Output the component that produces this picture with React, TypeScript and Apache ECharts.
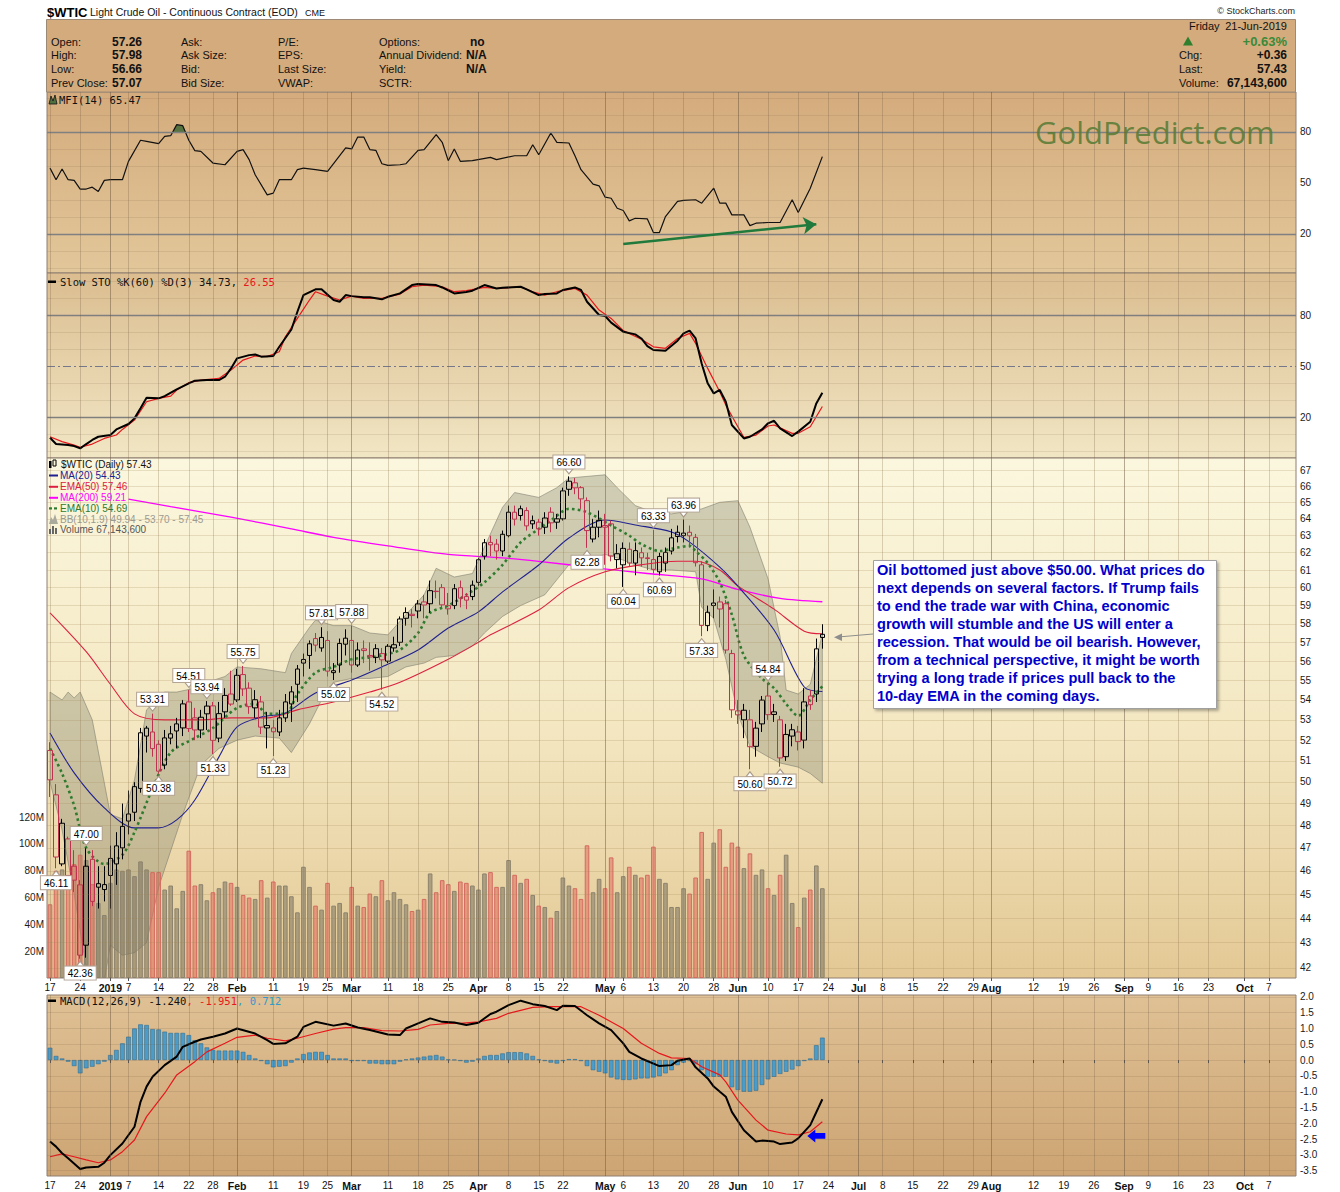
import React, { useEffect, useRef } from 'react';
import * as echarts from 'echarts';

// ---------- categories (trading days, then future weekdays) ----------
const monthDays: [string, number[]][] = [
  ['2018-12', [17, 18, 19, 20, 21, 24, 26, 27, 28, 31]],
  ['2019-01', [2, 3, 4, 7, 8, 9, 10, 11, 14, 15, 16, 17, 18, 22, 23, 24, 25, 28, 29, 30, 31]],
  ['2019-02', [1, 4, 5, 6, 7, 8, 11, 12, 13, 14, 15, 19, 20, 21, 22, 25, 26, 27, 28]],
  ['2019-03', [1, 4, 5, 6, 7, 8, 11, 12, 13, 14, 15, 18, 19, 20, 21, 22, 25, 26, 27, 28, 29]],
  ['2019-04', [1, 2, 3, 4, 5, 8, 9, 10, 11, 12, 15, 16, 17, 18, 22, 23, 24, 25, 26, 29, 30]],
  ['2019-05', [1, 2, 3, 6, 7, 8, 9, 10, 13, 14, 15, 16, 17, 20, 21, 22, 23, 24, 28, 29, 30, 31]],
  ['2019-06', [3, 4, 5, 6, 7, 10, 11, 12, 13, 14, 17, 18, 19, 20, 21, 24, 25, 26, 27, 28]],
  ['2019-07', [1, 2, 3, 5, 8, 9, 10, 11, 12, 15, 16, 17, 18, 19, 22, 23, 24, 25, 26, 29, 30, 31]],
  ['2019-08', [1, 2, 5, 6, 7, 8, 9, 12, 13, 14, 15, 16, 19, 20, 21, 22, 23, 26, 27, 28, 29, 30]],
  ['2019-09', [3, 4, 5, 6, 9, 10, 11, 12, 13, 16, 17, 18, 19, 20, 23, 24, 25, 26, 27, 30]],
  ['2019-10', [1, 2, 3, 4, 7, 8, 9, 10, 11]],
];
const dates: string[] = monthDays.flatMap(([m, ds]) => ds.map((d) => `${m}-${String(d).padStart(2, '0')}`));

// tick labels: [date, text, isMonth]
const tickLabels: [string, string, boolean][] = [
  ['2018-12-17', '17', false], ['2018-12-24', '24', false], ['2019-01-02', '2019', true], ['2019-01-07', '7', false],
  ['2019-01-14', '14', false], ['2019-01-22', '22', false], ['2019-01-28', '28', false], ['2019-02-01', 'Feb', true],
  ['2019-02-11', '11', false], ['2019-02-19', '19', false], ['2019-02-25', '25', false], ['2019-03-01', 'Mar', true],
  ['2019-03-11', '11', false], ['2019-03-18', '18', false], ['2019-03-25', '25', false], ['2019-04-01', 'Apr', true],
  ['2019-04-08', '8', false], ['2019-04-15', '15', false], ['2019-04-22', '22', false], ['2019-05-01', 'May', true],
  ['2019-05-06', '6', false], ['2019-05-13', '13', false], ['2019-05-20', '20', false], ['2019-05-28', '28', false],
  ['2019-06-03', 'Jun', true], ['2019-06-10', '10', false], ['2019-06-17', '17', false], ['2019-06-24', '24', false],
  ['2019-07-01', 'Jul', true], ['2019-07-08', '8', false], ['2019-07-15', '15', false], ['2019-07-22', '22', false],
  ['2019-07-29', '29', false], ['2019-08-01', 'Aug', true], ['2019-08-12', '12', false], ['2019-08-19', '19', false],
  ['2019-08-26', '26', false], ['2019-09-03', 'Sep', true], ['2019-09-09', '9', false], ['2019-09-16', '16', false],
  ['2019-09-23', '23', false], ['2019-10-01', 'Oct', true], ['2019-10-07', '7', false],
];

// ---------- price data ----------
const prevClose = 51.2;
const opens = [
  51.5, 49.4, 46.3, 47.4, 46.2, 45.4, 42.9, 46.5, 45.45, 45.2,
  45.8, 46.3, 47.0, 48.2, 48.6, 49.7, 52.2, 52.4, 51.8, 50.8,
  52.1, 52.8, 52.6, 53.9, 53.1, 52.5, 53.3, 53.7, 52.1, 53.4,
  54.3, 54.0, 55.3, 54.6, 53.6, 53.9, 52.6, 52.6, 52.4, 53.1,
  53.8, 54.8, 55.9, 56.3, 57.2, 56.7, 57.1, 55.4, 55.8, 56.9,
  57.1, 55.8, 56.65, 56.3, 56.2, 56.4, 56.0, 56.7, 57.0, 58.3,
  58.45, 58.7, 59.2, 59.1, 59.78, 60.0, 59.0, 59.0, 60.0, 59.5,
  59.5, 60.3, 61.8, 62.6, 62.5, 62.1, 63.0, 64.4, 64.2, 64.5,
  63.7, 63.8, 63.5, 64.4, 63.8, 64.0, 65.8, 66.2, 65.9, 65.1,
  62.8, 63.5, 63.5, 63.7, 61.6, 61.3, 62.2, 61.4, 62.0, 61.7,
  61.6, 60.9, 61.4, 62.1, 63.2, 63.0, 63.2, 62.9, 61.3, 57.9,
  59.0, 59.2, 59.1, 56.4, 53.45, 53.0, 53.0, 51.7, 52.8, 54.2,
  53.4, 53.0, 51.2, 52.2, 52.4, 52.0, 54.2, 54.3, 57.26,
];
const highs = [
  51.9, 49.9, 48.3, 47.5, 46.9, 45.6, 47.0, 46.9, 46.2, 46.2,
  47.1, 47.7, 49.0, 49.6, 50.0, 52.6, 52.7, 53.31, 52.0, 52.5,
  52.7, 53.1, 54.0, 54.51, 53.6, 53.5, 53.94, 53.9, 53.9, 54.6,
  55.5, 55.6, 55.75, 54.9, 54.5, 54.2, 53.4, 53.0, 53.5, 54.3,
  54.7, 55.8, 56.4, 57.1, 57.5, 57.81, 57.6, 55.9, 57.2, 57.7,
  57.88, 57.0, 57.1, 57.0, 56.9, 56.7, 56.9, 57.3, 58.4, 58.9,
  58.8, 59.3, 59.6, 60.4, 60.4, 60.2, 59.7, 60.2, 60.4, 59.7,
  60.4, 61.7, 62.8, 63.0, 62.8, 63.3, 64.8, 64.8, 64.8, 64.7,
  64.2, 64.0, 64.4, 64.7, 64.3, 65.9, 66.6, 66.5, 66.0, 65.3,
  64.0, 64.5, 64.3, 63.9, 62.5, 62.6, 62.6, 62.6, 62.3, 62.0,
  63.33, 62.0, 62.3, 63.4, 63.6, 63.96, 63.6, 63.1, 61.5, 59.0,
  59.9, 59.5, 59.3, 56.6, 54.0, 53.8, 53.5, 52.9, 54.2, 54.84,
  53.8, 53.2, 52.8, 52.8, 52.7, 54.6, 54.5, 57.2, 57.98,
];
const lows = [
  49.3, 46.11, 46.2, 45.5, 45.1, 42.36, 42.4, 44.5, 44.4, 44.7,
  44.4, 45.4, 46.5, 47.6, 48.2, 49.5, 51.4, 51.2, 50.38, 50.6,
  51.8, 51.6, 52.2, 52.4, 52.0, 52.1, 52.5, 51.33, 51.9, 53.1,
  53.7, 53.9, 54.2, 53.3, 53.1, 52.3, 51.6, 51.23, 52.2, 52.9,
  52.9, 53.9, 55.2, 55.6, 56.5, 56.5, 55.2, 55.02, 55.4, 56.3,
  55.4, 55.7, 55.9, 55.5, 55.9, 54.52, 55.9, 56.5, 56.8, 57.9,
  57.8, 58.3, 58.3, 58.6, 59.4, 58.8, 58.5, 58.8, 58.9, 58.8,
  59.3, 60.1, 61.6, 61.8, 61.6, 61.8, 62.9, 63.6, 63.9, 63.3,
  63.4, 63.0, 63.1, 63.2, 63.4, 63.9, 65.4, 65.5, 64.6, 62.28,
  62.6, 62.9, 61.3, 61.5, 61.1, 60.04, 61.2, 60.7, 61.2, 61.0,
  60.8, 60.69, 60.9, 61.9, 62.6, 62.6, 62.3, 61.2, 57.33, 57.6,
  58.3, 57.8, 56.4, 53.1, 52.8, 52.1, 50.6, 51.2, 52.4, 53.0,
  52.9, 50.72, 51.0, 51.7, 51.5, 51.6, 53.5, 53.9, 56.66,
];
const closes = [
  50.1, 46.6, 48.1, 45.8, 45.6, 42.5, 46.2, 44.7, 45.3, 45.41,
  46.54, 47.09, 47.96, 48.52, 49.78, 52.36, 52.59, 51.59, 50.51, 52.11,
  52.31, 52.45, 53.8, 52.57, 52.5, 53.13, 53.69, 51.99, 53.31, 54.23,
  53.79, 55.26, 54.56, 53.66, 54.01, 52.64, 52.72, 52.41, 53.1, 53.9,
  54.41, 55.59, 56.09, 56.92, 56.85, 57.26, 55.48, 55.5, 56.94, 57.22,
  55.8, 56.59, 56.56, 56.22, 56.66, 56.07, 56.79, 56.87, 58.26, 58.61,
  58.52, 59.09, 59.03, 59.83, 59.8, 59.04, 58.82, 59.94, 59.41, 59.3,
  60.14, 61.59, 62.58, 62.46, 62.1, 63.08, 64.4, 63.98, 64.61, 63.58,
  63.89, 63.4, 64.05, 63.76, 64.0, 65.7, 66.3, 65.89, 65.21, 63.3,
  63.5, 63.91, 63.6, 61.81, 61.94, 62.25, 61.4, 62.12, 61.7, 61.66,
  61.04, 61.78, 62.02, 62.87, 62.95, 63.15, 62.99, 61.42, 57.91, 58.63,
  59.14, 58.81, 56.59, 53.5, 53.25, 53.48, 51.68, 52.59, 53.99, 53.26,
  53.27, 51.14, 52.28, 52.51, 51.93, 53.9, 53.76, 56.65, 57.43,
];
// volume in millions
const volumeM = [
  55, 80, 81, 75, 85, 92, 88, 70, 56, 47,
  71, 81, 80, 81, 76, 87, 81, 79, 79, 66,
  69, 52, 65, 95, 69, 70, 58, 64, 67, 72,
  71, 68, 62, 60, 59, 73, 60, 72, 69, 69,
  61, 49, 83, 68, 54, 51, 71, 54, 56, 49,
  68, 54, 53, 63, 61, 73, 58, 64, 59, 55,
  50, 51, 59, 78, 64, 73, 70, 65, 72, 71,
  69, 66, 78, 79, 68, 68, 88, 77, 71, 74,
  62, 54, 53, 45, 50, 75, 69, 67, 59, 99,
  64, 74, 67, 90, 64, 76, 83, 77, 75, 77,
  98, 74, 71, 53, 53, 67, 63, 75, 109, 74,
  101, 111, 83, 101, 98, 82, 93, 77, 81, 67,
  62, 77, 92, 56, 38, 60, 66, 84, 67,
];

// overlays: [dayIndex, value]
const ma20: [number, number][] = [
  [0, 52.35], [4, 50.43], [9, 48.8], [14, 47.89], [18, 47.89], [21, 48.25], [24, 49.16], [28, 51.19], [31, 52.65],
  [35, 53.14], [39, 53.34], [44, 54.35], [50, 55.02], [55, 55.7], [61, 56.59], [66, 57.77], [71, 58.65], [75, 59.76],
  [81, 61.29], [86, 62.86], [92, 63.93], [97, 63.63], [103, 63.22], [106, 62.62], [111, 61.17], [114, 60.09],
  [120, 57.66], [125, 54.66], [128, 54.43],
];
const ema50: [number, number][] = [
  [0, 58.6], [6, 56.5], [10, 54.8], [14, 53.3], [19, 53.0], [25, 53.0], [30, 53.1], [36, 53.1], [41, 53.5], [47, 53.9],
  [53, 54.4], [58, 54.9], [66, 56.1], [71, 57.0], [73, 57.4], [81, 58.75], [86, 60.0], [92, 60.9], [98, 61.3],
  [104, 61.5], [107, 61.5], [111, 61.0], [114, 60.1], [120, 58.8], [125, 57.6], [128, 57.46],
];
const ma200: [number, number][] = [
  [13, 65.2], [20, 64.74], [30, 64.1], [40, 63.4], [47, 62.9], [56, 62.4], [66, 61.9], [75, 61.7], [81, 61.5],
  [91, 61.1], [99, 60.8], [108, 60.5], [114, 59.9], [121, 59.4], [128, 59.21],
];
const ema10: [number, number][] = [
  [0, 51.6], [2, 50.4], [4, 48.9], [6, 47.0], [9, 46.3], [12, 46.7], [14, 47.7], [17, 49.7], [20, 51.4], [24, 52.1],
  [27, 52.6], [31, 53.6], [34, 53.8], [36, 53.3], [39, 53.3], [41, 54.3], [44, 55.4], [47, 55.7], [50, 56.1],
  [53, 56.2], [55, 56.3], [58, 56.6], [61, 57.5], [63, 58.6], [66, 59.0], [69, 59.6], [72, 60.3], [75, 61.3],
  [78, 62.6], [81, 63.4], [83, 63.9], [86, 64.6], [89, 64.4], [93, 63.6], [96, 63.0], [98, 62.5], [101, 62.1],
  [104, 62.3], [106, 62.4], [107, 62.1], [109, 61.4], [111, 60.3], [113, 58.5], [115, 56.3], [118, 55.1],
  [120, 54.6], [122, 53.8], [124, 53.2], [126, 54.0], [128, 54.69],
];
const bbUpper: [number, number][] = [
  [0, 54.4], [2, 54.0], [3, 54.4], [4, 54.1], [5, 54.4], [7, 53.0], [10, 48.5], [12, 48.3], [14, 50.1], [16, 53.5],
  [19, 54.4], [21, 54.4], [24, 54.6], [27, 55.0], [29, 55.2], [31, 55.7], [35, 55.6], [37, 55.5], [39, 55.4],
  [40, 56.4], [43, 57.8], [44, 58.2], [47, 57.9], [50, 57.9], [53, 57.5], [56, 57.4], [59, 58.5], [62, 59.6],
  [64, 61.1], [67, 60.6], [70, 60.8], [75, 64.7], [77, 65.6], [81, 65.3], [84, 65.9], [86, 66.5], [92, 66.7],
  [94, 65.9], [97, 64.8], [100, 64.4], [103, 64.3], [108, 64.6], [111, 65.0], [114, 65.1], [116, 63.5],
  [119, 60.5], [121, 57.3], [122, 54.5], [124, 54.3], [126, 54.8], [128, 57.45],
];
const bbLower: [number, number][] = [
  [0, 50.0], [2, 47.8], [4, 45.0], [6, 42.0], [7, 41.5], [9, 41.5], [10, 42.9], [12, 42.5], [14, 42.6], [16, 43.0],
  [18, 45.3], [22, 48.5], [25, 50.8], [28, 51.6], [31, 52.0], [34, 52.2], [38, 52.1], [40, 51.4], [43, 52.8],
  [45, 54.0], [47, 54.9], [50, 55.1], [53, 55.1], [56, 55.2], [59, 55.7], [62, 55.9], [64, 56.2], [67, 56.3],
  [70, 56.8], [72, 57.5], [75, 58.4], [78, 59.0], [82, 59.6], [86, 61.3], [92, 61.9], [94, 61.7], [97, 61.3],
  [100, 61.0], [103, 61.0], [107, 60.9], [108, 58.9], [110, 58.3], [112, 56.1], [114, 53.3], [116, 51.7],
  [119, 51.2], [121, 50.9], [124, 50.7], [126, 50.4], [128, 49.94],
];
// price callouts: [dayIndex, text, side]
const callouts: [number, string, 'high' | 'low'][] = [
  [1, '46.11', 'low'], [5, '42.36', 'low'], [6, '47.00', 'high'], [17, '53.31', 'high'], [18, '50.38', 'low'],
  [23, '54.51', 'high'], [26, '53.94', 'high'], [27, '51.33', 'low'], [32, '55.75', 'high'], [37, '51.23', 'low'],
  [45, '57.81', 'high'], [47, '55.02', 'low'], [50, '57.88', 'high'], [55, '54.52', 'low'], [86, '66.60', 'high'],
  [89, '62.28', 'low'], [95, '60.04', 'low'], [100, '63.33', 'high'], [101, '60.69', 'low'], [105, '63.96', 'high'],
  [108, '57.33', 'low'], [116, '50.60', 'low'], [119, '54.84', 'high'], [121, '50.72', 'low'],
];

// ---------- indicators ----------
const mfi: [number, number][] = [
  [0, 58.7], [1, 51.9], [2, 58.2], [3, 51.9], [4, 51.5], [5, 46.4], [6, 46.4], [7, 47.5], [8, 45.0], [9, 51.5],
  [10, 51.9], [12, 51.9], [13, 62.7], [15, 75.1], [16, 74.5], [18, 73.1], [19, 77.4], [20, 77.8], [21, 84.3],
  [22, 83.7], [23, 75.1], [24, 69.0], [25, 68.6], [27, 61.7], [29, 60.7], [31, 68.6], [32, 69.6], [33, 63.7],
  [34, 54.8], [36, 43.0], [37, 44.0], [38, 51.9], [40, 51.9], [41, 57.8], [42, 58.7], [44, 57.8], [46, 56.8],
  [49, 70.6], [50, 70.0], [51, 77.0], [52, 77.0], [53, 69.6], [54, 69.2], [55, 61.3], [56, 60.3], [58, 60.7],
  [59, 61.3], [61, 69.2], [62, 69.6], [64, 78.4], [65, 73.9], [66, 63.1], [67, 70.0], [68, 62.7], [70, 63.1],
  [73, 65.0], [74, 63.7], [77, 66.0], [79, 66.0], [80, 72.5], [81, 66.6], [83, 79.4], [84, 73.9], [86, 73.5],
  [87, 66.0], [88, 57.8], [90, 49.3], [91, 48.3], [92, 41.6], [93, 41.0], [94, 35.1], [95, 33.8], [96, 27.7],
  [97, 29.2], [99, 28.8], [100, 20.8], [101, 20.8], [102, 30.2], [104, 39.1], [105, 39.7], [107, 40.1],
  [108, 38.1], [110, 46.9], [111, 38.1], [112, 38.1], [113, 31.2], [115, 31.2], [116, 24.9], [117, 26.3],
  [119, 26.7], [121, 26.7], [123, 40.1], [124, 32.6], [126, 46.9], [128, 65.47],
];
const stoK: [number, number][] = [
  [0, 8.2], [1, 4.5], [3, 3.9], [4, 3.3], [5, 2.0], [6, 4.5], [7, 6.9], [8, 8.8], [10, 9.8], [11, 13.1], [13, 16.3],
  [14, 19.6], [15, 25.5], [16, 31.8], [18, 31.4], [19, 32.7], [21, 36.7], [23, 40.2], [24, 41.8], [26, 42.1],
  [28, 42.1], [29, 44.1], [30, 49.0], [31, 54.9], [33, 56.8], [34, 57.2], [35, 55.9], [37, 56.3], [38, 61.7],
  [40, 71.9], [41, 82.3], [42, 92.1], [44, 95.5], [45, 95.5], [47, 89.2], [48, 88.2], [49, 92.1], [50, 91.5],
  [52, 90.8], [53, 90.8], [55, 89.6], [56, 91.1], [58, 93.1], [60, 98.0], [61, 98.6], [64, 98.0], [65, 96.6],
  [67, 93.1], [69, 93.9], [70, 94.7], [72, 98.0], [74, 96.0], [75, 96.4], [78, 97.0], [79, 95.5], [81, 92.1],
  [82, 92.7], [84, 93.1], [85, 95.1], [87, 96.6], [88, 95.1], [89, 88.2], [91, 80.4], [92, 79.8], [93, 75.9],
  [95, 70.6], [97, 69.0], [98, 66.6], [99, 62.1], [100, 59.8], [102, 59.4], [104, 65.3], [105, 69.6], [106, 71.2],
  [107, 66.6], [108, 51.9], [109, 40.2], [110, 34.3], [111, 36.3], [112, 29.4], [113, 15.7], [115, 7.8],
  [116, 8.8], [118, 13.1], [119, 16.7], [120, 18.2], [121, 13.7], [123, 9.2], [124, 11.8], [126, 17.6],
  [127, 28.4], [128, 34.73],
];
const stoD: [number, number][] = [
  [0, 8.8], [2, 5.9], [4, 3.9], [5, 2.6], [7, 4.5], [9, 7.8], [11, 9.8], [12, 13.1], [14, 18.6], [16, 29.4],
  [18, 31.4], [20, 32.7], [21, 36.3], [23, 40.6], [25, 42.1], [28, 43.1], [30, 48.0], [32, 53.9], [34, 56.3],
  [36, 55.9], [38, 58.8], [39, 67.6], [41, 78.4], [43, 89.2], [44, 94.1], [46, 91.5], [48, 89.2], [50, 91.5],
  [52, 90.2], [55, 90.2], [56, 91.1], [58, 92.7], [60, 97.0], [62, 98.0], [65, 97.0], [67, 94.1], [69, 94.7],
  [72, 96.6], [74, 96.0], [78, 97.0], [80, 94.1], [82, 92.1], [84, 94.1], [87, 96.0], [89, 92.1], [91, 83.3],
  [93, 78.4], [95, 71.2], [98, 66.1], [100, 61.7], [102, 60.8], [104, 66.6], [106, 69.6], [107, 63.7],
  [109, 49.0], [111, 35.3], [112, 27.4], [114, 14.7], [115, 8.4], [117, 9.8], [119, 15.1], [120, 15.7],
  [123, 10.8], [124, 10.8], [126, 14.7], [128, 26.55],
];
const macdLine: [number, number][] = [
  [0, -2.58], [1, -2.74], [2, -2.95], [3, -3.11], [5, -3.45], [6, -3.4], [8, -3.38], [9, -3.25], [10, -3.01],
  [12, -2.64], [14, -2.11], [15, -1.32], [16, -0.84], [17, -0.53], [19, -0.16], [21, 0.11], [22, 0.42], [24, 0.58],
  [25, 0.65], [27, 0.74], [29, 0.84], [31, 1.0], [34, 0.84], [36, 0.63], [37, 0.51], [39, 0.53], [41, 0.74],
  [42, 1.05], [44, 1.21], [47, 1.09], [49, 1.16], [51, 1.03], [53, 0.95], [56, 0.81], [58, 0.79], [59, 1.0],
  [61, 1.16], [63, 1.32], [65, 1.21], [67, 1.19], [69, 1.11], [71, 1.18], [73, 1.46], [74, 1.53], [76, 1.74],
  [78, 1.88], [80, 1.77], [82, 1.71], [84, 1.58], [85, 1.72], [87, 1.71], [89, 1.42], [91, 1.16], [93, 0.95],
  [95, 0.53], [96, 0.26], [98, 0.05], [101, -0.19], [103, -0.16], [104, -0.02], [106, 0.05], [107, -0.23],
  [109, -0.58], [110, -0.84], [112, -1.16], [113, -1.64], [115, -2.22], [117, -2.58], [118, -2.55], [120, -2.58],
  [121, -2.66], [123, -2.61], [124, -2.48], [126, -2.06], [128, -1.24],
];
const macdSignal: [number, number][] = [
  [0, -3.06], [2, -2.97], [4, -3.06], [6, -3.16], [8, -3.25], [10, -3.16], [12, -2.9], [14, -2.53], [16, -1.79],
  [19, -1.05], [21, -0.47], [24, -0.05], [26, 0.26], [29, 0.53], [31, 0.72], [34, 0.79], [36, 0.69], [39, 0.61],
  [41, 0.69], [44, 0.84], [47, 0.98], [49, 1.03], [52, 1.03], [55, 0.93], [58, 0.92], [61, 0.97], [63, 1.11],
  [66, 1.16], [68, 1.16], [71, 1.21], [74, 1.32], [76, 1.48], [80, 1.67], [83, 1.69], [86, 1.69], [88, 1.69],
  [91, 1.42], [95, 1.0], [98, 0.53], [101, 0.21], [103, 0.07], [106, 0.05], [108, -0.21], [111, -0.47],
  [112, -0.69], [114, -1.27], [117, -1.9], [119, -2.22], [122, -2.34], [124, -2.37], [126, -2.27], [128, -1.95],
];
const macdHist = [
  0.39, 0.13, 0.05, -0.05, -0.19, -0.42, -0.26, -0.21, -0.13, -0.05,
  0.16, 0.32, 0.53, 0.74, 1.0, 1.13, 1.11, 0.98, 0.97, 0.9,
  0.86, 0.86, 0.86, 0.79, 0.63, 0.53, 0.4, 0.32, 0.3, 0.3,
  0.3, 0.3, 0.26, 0.16, 0.05, -0.03, -0.13, -0.23, -0.21, -0.19,
  -0.08, 0.05, 0.19, 0.24, 0.26, 0.26, 0.16, 0.05, 0.05, 0.05,
  -0.03, -0.03, -0.03, -0.11, -0.11, -0.13, -0.13, -0.13, -0.05, 0.02,
  0.05, 0.08, 0.11, 0.14, 0.16, 0.11, 0.02, 0.01, -0.03, -0.08,
  -0.05, 0.05, 0.13, 0.16, 0.16, 0.21, 0.25, 0.25, 0.25, 0.21,
  0.13, 0.02, -0.03, -0.08, -0.11, -0.03, 0.03, 0.03, -0.03, -0.19,
  -0.32, -0.37, -0.42, -0.55, -0.61, -0.63, -0.63, -0.61, -0.58, -0.58,
  -0.55, -0.51, -0.42, -0.32, -0.16, -0.08, -0.03, -0.13, -0.32, -0.53,
  -0.53, -0.53, -0.53, -0.86, -0.95, -1.0, -1.0, -0.97, -0.79, -0.61,
  -0.53, -0.44, -0.37, -0.3, -0.19, -0.03, 0.05, 0.47, 0.71,
];

// axis tick labels on the right
const priceTicks = [42, 43, 44, 45, 46, 47, 48, 49, 50, 51, 52, 53, 54, 55, 56, 57, 58, 59, 60, 61, 62, 63, 64, 65, 66, 67];
const macdTicks = [2.0, 1.5, 1.0, 0.5, 0.0, -0.5, -1.0, -1.5, -2.0, -2.5, -3.0, -3.5];

// ---------- styling ----------
const RED = '#BE3250';
const FONT = '"Liberation Sans", Arial, sans-serif';
const MONO = '"DejaVu Sans Mono", monospace';
const GL = 47;
const GW = 1249;

const labelMap: Record<string, [string, boolean]> = {};
tickLabels.forEach(([d, l, b]) => { labelMap[d] = [l, b]; });

const grad = (stops: [number, string][]) =>
  new echarts.graphic.LinearGradient(0, 0, 0, 1, stops.map(([offset, color]) => ({ offset, color })));

const axisLabelStyle = (text: string) => ({
  show: true, position: 'end', formatter: text, color: '#1a1a1a', fontSize: 10, fontFamily: FONT, distance: 4,
});
const hLine = (v: number, color: string, width: number, type: any, labelText?: string) => ({
  yAxis: v,
  lineStyle: { color, width, type },
  label: labelText != null ? axisLabelStyle(labelText) : { show: false },
});
const vLines = (week: string, month: string) =>
  tickLabels.map(([d, , b]) => ({ xAxis: d, lineStyle: { color: b ? month : week, width: 1, type: 'solid' }, label: { show: false } }));

const helper = (g: number, yIdx: number, data: any[]) => ({
  type: 'line', xAxisIndex: g, yAxisIndex: yIdx, data: [], silent: true, z: 0,
  markLine: { silent: true, symbol: ['none', 'none'], label: { show: false }, data },
});

function buildOption() {
  const candleData = opens.map((o, i) => {
    const c = closes[i];
    const pc = i === 0 ? prevClose : closes[i - 1];
    const col = c < pc ? RED : '#000000';
    return {
      value: [o, c, lows[i], highs[i]],
      itemStyle: { color: 'rgba(0,0,0,0)', color0: col, borderColor: col, borderColor0: col, borderColorDoji: col },
    };
  });
  const volData = volumeM.map((v, i) => {
    const pc = i === 0 ? prevClose : closes[i - 1];
    const down = closes[i] < pc;
    return {
      value: v,
      itemStyle: down
        ? { color: 'rgba(222,105,90,0.52)', borderColor: '#D46A60', borderWidth: 1 }
        : { color: 'rgba(118,112,92,0.52)', borderColor: '#8C836E', borderWidth: 1 },
    };
  });

  const xAxes = [0, 1, 2, 3].map((g) => ({
    type: 'category', gridIndex: g, data: dates, boundaryGap: true,
    axisLine: { show: false },
    splitLine: { show: false },
    axisTick: g >= 2
      ? { show: true, alignWithLabel: true, length: 3, interval: (_i: number, v: string) => !!labelMap[v], lineStyle: { color: '#555' } }
      : { show: false },
    axisLabel: g >= 2
      ? {
        show: true, interval: 0, margin: 4, color: '#111', fontSize: 10, fontFamily: FONT,
        formatter: (v: string) => {
          const l = labelMap[v];
          if (!l) return '';
          return l[1] ? `{b|${l[0]}}` : l[0];
        },
        rich: { b: { fontWeight: 'bold', fontSize: 10.5, fontFamily: FONT, color: '#111' } },
      }
      : { show: false },
  }));

  const faint = 'rgba(110,85,60,0.13)';
  const weekV = 'rgba(110,85,60,0.26)';
  const monthV = 'rgba(100,80,60,0.45)';

  const mfiLines: any[] = [];
  [0, 10, 30, 40, 60, 70, 90, 100].forEach((v) => mfiLines.push(hLine(v, faint, 1, 'solid')));
  mfiLines.push(hLine(80, '#808080', 1.3, 'solid', '80'));
  mfiLines.push(hLine(20, '#808080', 1.3, 'solid', '20'));
  mfiLines.push(hLine(50, 'rgba(0,0,0,0)', 1, 'solid', '50'));
  mfiLines.push(...vLines(weekV, monthV));

  const stoLines: any[] = [];
  [0, 10, 30, 40, 60, 70, 90, 100].forEach((v) => stoLines.push(hLine(v, faint, 1, 'solid')));
  stoLines.push(hLine(80, '#7f7f7f', 1.3, 'solid', '80'));
  stoLines.push(hLine(20, '#7f7f7f', 1.3, 'solid', '20'));
  stoLines.push(hLine(50, '#77778a', 1.2, [8, 3, 2, 3], '50'));
  stoLines.push(...vLines(weekV, monthV));

  const priceLines: any[] = priceTicks.map((v) => hLine(v, 'rgba(160,130,80,0.22)', 1, 'solid', String(v)));
  priceLines.push(...vLines('rgba(140,115,80,0.3)', 'rgba(110,90,70,0.5)'));

  const macdLines: any[] = macdTicks.map((v) => hLine(v, 'rgba(110,85,60,0.16)', 1, 'solid', v.toFixed(1)));
  macdLines.push(...vLines(weekV, monthV));

  const lineS = (data: any, color: string, width: number, g: number, y: number, extra: any = {}) => ({
    type: 'line', xAxisIndex: g, yAxisIndex: y, data, showSymbol: false, symbol: 'none', silent: true,
    lineStyle: { color, width }, z: 2, ...extra,
  });

  const series: any[] = [
    // MFI panel
    helper(0, 0, mfiLines),
    {
      type: 'custom', xAxisIndex: 0, yAxisIndex: 0, data: [[0, 0]], z: 1, silent: true, clip: true,
      renderItem: (_p: any, api: any) => {
        const children: any[] = [];
        const th = 80;
        let pts: number[][] = [];
        for (let k = 0; k < mfi.length; k++) {
          const cur = mfi[k];
          const prev = mfi[k - 1];
          if (cur[1] > th) {
            if (pts.length === 0 && prev) {
              const a = api.coord(prev); const b = api.coord(cur);
              const t = (th - prev[1]) / (cur[1] - prev[1]);
              pts.push([a[0] + (b[0] - a[0]) * t, api.coord([cur[0], th])[1]]);
            }
            pts.push(api.coord(cur));
          } else if (pts.length && prev) {
            const a = api.coord(prev); const b = api.coord(cur);
            const t = (prev[1] - th) / (prev[1] - cur[1]);
            pts.push([a[0] + (b[0] - a[0]) * t, api.coord([cur[0], th])[1]]);
            children.push({ type: 'polygon', shape: { points: pts }, style: { fill: '#56733F' } });
            pts = [];
          }
        }
        return { type: 'group', children };
      },
    },
    lineS(mfi, '#111', 1.2, 0, 0, {
      markLine: {
        silent: true, symbol: ['none', 'arrow'], symbolSize: 13, label: { show: false },
        lineStyle: { color: '#1F7A3C', width: 2.6, type: 'solid' },
        data: [[{ coord: [95, 14.1] }, { coord: [127, 25.7] }]],
      },
    }),
    // STO panel
    helper(1, 1, stoLines),
    lineS(stoD, '#E8171C', 1.2, 1, 1),
    lineS(stoK, '#000', 2, 1, 1),
    // Price panel
    helper(2, 2, priceLines),
    {
      type: 'bar', xAxisIndex: 2, yAxisIndex: 3, data: volData, barWidth: 4.6, z: 1, silent: true,
    },
    {
      type: 'custom', xAxisIndex: 2, yAxisIndex: 2, data: [[0, 50]], z: 1, silent: true, clip: true,
      renderItem: (_p: any, api: any) => {
        const up = bbUpper.map((d) => api.coord(d));
        const lo = bbLower.map((d) => api.coord(d)).reverse();
        return {
          type: 'polygon',
          shape: { points: up.concat(lo) },
          style: { fill: 'rgba(130,132,112,0.36)', stroke: 'rgba(120,120,108,0.55)', lineWidth: 1 },
        };
      },
    },
    lineS(ma200, '#FF00FF', 1.3, 2, 2, { smooth: 0.3 }),
    lineS(ema50, '#DD2040', 1.1, 2, 2, { smooth: 0.3 }),
    lineS(ma20, '#202090', 1.1, 2, 2, { smooth: 0.3 }),
    lineS(ema10, '#2E7A2E', 2.6, 2, 2, { smooth: 0.3, lineStyle: { color: '#2E7A2E', width: 2.6, type: [2.6, 3.2] } }),
    {
      type: 'candlestick', xAxisIndex: 2, yAxisIndex: 2, data: candleData, barWidth: 5, z: 3, silent: true,
      itemStyle: { borderWidth: 1 },
      markPoint: {
        silent: true,
        data: callouts.map(([i, t, side]) => ({
          coord: [i, Number(t)],
          value: t,
          symbol: 'triangle',
          symbolSize: [8, 5],
          symbolRotate: side === 'high' ? 180 : 0,
          symbolOffset: [0, side === 'high' ? -5 : 5],
          itemStyle: { color: '#FFFFFF', borderColor: '#A89888', borderWidth: 1 },
          label: {
            show: true, position: side === 'high' ? 'top' : 'bottom', distance: 0, formatter: '{c}',
            color: '#000', fontSize: 10, fontFamily: FONT, backgroundColor: '#FFFFFF',
            borderColor: '#B4A494', borderWidth: 1, padding: [2, 3, 1, 3],
          },
        })),
      },
    },
    // MACD panel
    helper(3, 4, macdLines),
    {
      type: 'bar', xAxisIndex: 3, yAxisIndex: 4, data: macdHist, barWidth: 4.6, z: 1, silent: true,
      itemStyle: { color: '#4B9CC9', borderColor: '#2F6F95', borderWidth: 0.6 },
    },
    lineS(macdSignal, '#E8171C', 1.2, 3, 4, {
      markPoint: {
        silent: true,
        data: [{
          coord: [127, -2.4],
          symbol: 'path://M0,7 L8,0 L8,4 L18,4 L18,10 L8,10 L8,14 Z',
          symbolSize: [18, 13],
          itemStyle: { color: '#0000FF' },
          label: { show: false },
        }],
      },
    }),
    lineS(macdLine, '#000', 2, 3, 4),
  ];

  // ---------- graphic (header, legends, annotation) ----------
  const T = (x: number, y: number, text: string, font: string, fill = '#111', align = 'left') => ({
    type: 'text', x, y, z: 100, silent: true,
    style: { text, font, fill, align, verticalAlign: 'middle' },
  });
  const R = (x: number, y: number, w: number, h: number, fill: string, stroke?: string) => ({
    type: 'rect', z: 100, silent: true, shape: { x, y, width: w, height: h },
    style: { fill, stroke: stroke || 'none', lineWidth: 1 },
  });
  const LBL = `11px ${FONT}`;
  const VAL = `bold 12px ${FONT}`;
  const LEG = `10px ${FONT}`;
  const LEGM = `10.5px ${MONO}`;
  const rows = [41.7, 55.3, 69.3, 83.3];

  const graphic: any[] = [
    T(47, 12, '$WTIC', `bold 13px ${FONT}`, '#000'),
    T(90, 12, 'Light Crude Oil - Continuous Contract (EOD)', `10.5px ${FONT}`, '#111'),
    T(305, 12.5, 'CME', `9px ${FONT}`, '#111'),
    T(1295, 11, '© StockCharts.com', `9px ${FONT}`, '#222', 'right'),
    { type: 'rect', z: 5, silent: true, shape: { x: 46.5, y: 19.5, width: 1249, height: 72.5 }, style: { fill: '#D4AB7C', stroke: '#9C8A76', lineWidth: 1 } },
    T(51, rows[0], 'Open:', LBL), T(51, rows[1], 'High:', LBL), T(51, rows[2], 'Low:', LBL), T(51, rows[3], 'Prev Close:', LBL),
    T(112, rows[0], '57.26', VAL), T(112, rows[1], '57.98', VAL), T(112, rows[2], '56.66', VAL), T(112, rows[3], '57.07', VAL),
    T(181, rows[0], 'Ask:', LBL), T(181, rows[1], 'Ask Size:', LBL), T(181, rows[2], 'Bid:', LBL), T(181, rows[3], 'Bid Size:', LBL),
    T(278, rows[0], 'P/E:', LBL), T(278, rows[1], 'EPS:', LBL), T(278, rows[2], 'Last Size:', LBL), T(278, rows[3], 'VWAP:', LBL),
    T(379, rows[0], 'Options:', LBL), T(379, rows[1], 'Annual Dividend:', LBL), T(379, rows[2], 'Yield:', LBL), T(379, rows[3], 'SCTR:', LBL),
    T(470, rows[0], 'no', VAL), T(466, rows[1], 'N/A', VAL), T(466, rows[2], 'N/A', VAL),
    T(1189, 26, 'Friday', LBL), T(1287, 26, '21-Jun-2019', LBL, '#111', 'right'),
    { type: 'polygon', z: 100, silent: true, shape: { points: [[1183, 45.5], [1193, 45.5], [1188, 36.5]] }, style: { fill: '#2F7F2F' } },
    T(1287, 41, '+0.63%', `bold 13px ${FONT}`, '#3A8A3A', 'right'),
    T(1179, 55.3, 'Chg:', LBL), T(1287, 55.3, '+0.36', VAL, '#111', 'right'),
    T(1179, 69.3, 'Last:', LBL), T(1287, 69.3, '57.43', VAL, '#111', 'right'),
    T(1179, 83.3, 'Volume:', LBL), T(1287, 83.3, '67,143,600', VAL, '#111', 'right'),

    // MFI legend
    { type: 'polygon', z: 100, silent: true, shape: { points: [[49, 104], [51, 96], [53, 101], [55, 95], [57, 104]] }, style: { fill: '#4E7040', stroke: '#111', lineWidth: 0.8 } },
    T(59, 99.5, 'MFI(14) 65.47', LEGM, '#111'),
    { type: 'text', x: 1035, y: 132, z: 100, silent: true, style: { text: 'GoldPredict.com', font: `31px "Open Sans", sans-serif`, fill: 'rgba(86,122,52,0.85)', verticalAlign: 'middle' } },

    // STO legend
    R(48, 280.5, 8, 2.5, '#000'),
    {
      type: 'text', x: 60, y: 281.5, z: 100, silent: true,
      style: {
        text: '{k|Slow STO %K(60) %D(3) 34.73, }{r|26.55}', verticalAlign: 'middle',
        rich: { k: { font: LEGM, fill: '#111' }, r: { font: LEGM, fill: '#E8171C' } },
      },
    },

    // price legend
    R(49, 461, 2.5, 7, '#000'), R(53, 460, 3, 6, 'none', '#000'),
    T(61, 464.5, '$WTIC (Daily) 57.43', LEG, '#111'),
    R(49, 474.5, 9, 2, '#202090'), T(60, 475.5, 'MA(20) 54.43', LEG, '#202090'),
    R(49, 485.8, 9, 2, '#DD2040'), T(60, 486.8, 'EMA(50) 57.46', LEG, '#DD2040'),
    R(49, 496.8, 9, 2, '#FF00FF'), T(60, 497.8, 'MA(200) 59.21', LEG, '#FF00FF'),
    R(49, 507.3, 3, 2.2, '#2E7A2E'), R(54, 507.3, 3, 2.2, '#2E7A2E'), T(60, 508.4, 'EMA(10) 54.69', LEG, '#2E7A2E'),
    { type: 'polygon', z: 100, silent: true, shape: { points: [[49, 524], [51, 517], [53, 520], [55, 514], [58, 524]] }, style: { fill: '#A9AA9C' } },
    T(60, 519.3, 'BB(10,1.9) 49.94 - 53.70 - 57.45', LEG, '#9A9A92'),
    R(49, 529, 2, 5, '#666'), R(52, 526, 2, 8, '#666'), R(55, 528, 2, 6, '#666'),
    T(60, 529.5, 'Volume 67,143,600', LEG, '#555'),

    // annotation
    {
      type: 'rect', z: 100, silent: true, shape: { x: 873.5, y: 560.5, width: 343, height: 148 },
      style: { fill: '#FFFFFF', stroke: '#A0A0A0', lineWidth: 1, shadowBlur: 3, shadowOffsetX: 2, shadowOffsetY: 2, shadowColor: 'rgba(0,0,0,0.3)' },
    },
    { type: 'line', z: 100, silent: true, shape: { x1: 873, y1: 634, x2: 838, y2: 637 }, style: { stroke: '#8E8E8E', lineWidth: 1 } },
    { type: 'polygon', z: 100, silent: true, shape: { points: [[834, 637.3], [842, 633.5], [842, 641]] }, style: { fill: '#8E8E8E' } },

    // MACD legend
    R(48, 999.5, 8, 2.5, '#000'),
    {
      type: 'text', x: 60, y: 1000.8, z: 100, silent: true,
      style: {
        text: '{k|MACD(12,26,9) -1.240}{r|, -1.951}{b|, 0.712}', verticalAlign: 'middle',
        rich: { k: { font: LEGM, fill: '#111' }, r: { font: LEGM, fill: '#E8171C' }, b: { font: LEGM, fill: '#3399CC' } },
      },
    },
  ];
  const noteLines = [
    'Oil bottomed just above $50.00. What prices do',
    'next depends on several factors. If Trump fails',
    'to end the trade war with China, economic',
    'growth will stumble and the US will enter a',
    'recession. That would be oil bearish. However,',
    'from a technical perspective, it might be worth',
    'trying a long trade if prices pull back to the',
    '10-day EMA in the coming days.',
  ];
  noteLines.forEach((l, k) => graphic.push(T(877, 569.5 + k * 18, l, `bold 14.6px ${FONT}`, '#0000CC')));

  return {
    animation: false,
    backgroundColor: '#FFFFFF',
    textStyle: { fontFamily: FONT },
    grid: [
      { left: GL, top: 92, width: GW, height: 181, show: true, borderColor: '#8E7E70', borderWidth: 1, backgroundColor: grad([[0, '#D4AB7C'], [1, '#E2C79A']]) },
      { left: GL, top: 273, width: GW, height: 185, show: true, borderColor: '#8E7E70', borderWidth: 1, backgroundColor: grad([[0, '#DBBD90'], [1, '#F1E6C4']]) },
      { left: GL, top: 458, width: GW, height: 520, show: true, borderColor: '#8E7E70', borderWidth: 1, backgroundColor: grad([[0, '#FBF7DE'], [0.5, '#F4E8C3'], [1, '#E3C894']]) },
      { left: GL, top: 995, width: GW, height: 181, show: true, borderColor: '#8E7E70', borderWidth: 1, backgroundColor: grad([[0, '#DFC195'], [1, '#CDA473']]) },
    ],
    xAxis: xAxes,
    yAxis: [
      { type: 'value', gridIndex: 0, min: -3, max: 103.5, show: false },
      { type: 'value', gridIndex: 1, min: -3.7, max: 105.1, show: false },
      { type: 'log', gridIndex: 2, min: 41.6, max: 67.76, logBase: 10, show: false },
      {
        type: 'value', gridIndex: 2, min: 0, max: 388, interval: 20, position: 'left',
        axisLine: { show: false }, axisTick: { show: false }, splitLine: { show: false },
        axisLabel: { formatter: (v: number) => (v > 0 && v <= 120 ? `${v}M` : ''), color: '#1a1a1a', fontSize: 10, fontFamily: FONT, margin: 3 },
      },
      { type: 'value', gridIndex: 3, min: -3.67, max: 2.06, show: false },
    ],
    series,
    graphic,
  };
}

export default function App() {
  const ref = useRef<HTMLDivElement>(null);
  useEffect(() => {
    if (!ref.current) return;
    const chart = echarts.init(ref.current, null, { renderer: 'svg' });
    chart.setOption(buildOption() as any);
    return () => chart.dispose();
  }, []);
  return <div ref={ref} style={{ position: 'fixed', left: 0, top: 0, width: 1340, height: 1192, background: '#fff' }} />;
}
